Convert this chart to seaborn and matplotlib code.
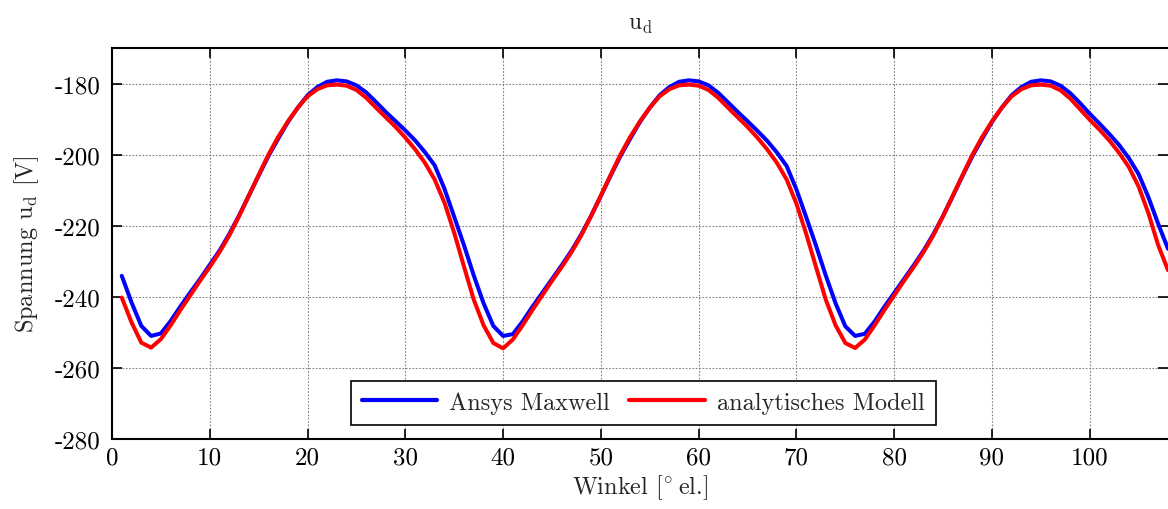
import numpy as np
import pandas as pd
import matplotlib
matplotlib.use("Agg")
import matplotlib.pyplot as plt
import seaborn as sns

# ---- data ----
winkel = list(range(1, 109))

ansys_maxwell = [
    -234.1, -241.6, -248.2, -251.0, -250.3, -246.8, -242.7, -238.8, -235.0, -231.0,
    -227.0, -222.3, -217.1, -211.5, -205.9, -200.4, -195.5, -190.8, -186.8, -183.3,
    -181.0, -179.5, -179.1, -179.4, -180.5, -182.5, -185.2, -188.0, -190.6, -193.2,
    -196.0, -199.3, -203.0, -209.6, -217.5, -225.5,
    -234.0, -241.8, -248.2, -251.0, -250.5, -246.9, -242.8, -238.9, -235.0, -231.1,
    -227.0, -222.4, -217.2, -211.6, -205.9, -200.4, -195.5, -190.8, -186.8, -183.3,
    -181.0, -179.5, -179.1, -179.4, -180.5, -182.6, -185.3, -188.0, -190.6, -193.3,
    -196.1, -199.4, -203.2, -209.8, -217.6, -225.6,
    -234.0, -241.8, -248.3, -251.0, -250.4, -246.9, -242.8, -238.9, -235.0, -231.1,
    -227.0, -222.4, -217.2, -211.6, -205.9, -200.4, -195.5, -190.8, -186.8, -183.3,
    -181.0, -179.5, -179.1, -179.4, -180.6, -182.7, -185.5, -188.5, -191.3, -194.2,
    -197.3, -201.0, -205.5, -212.0, -219.5, -226.5,
]

analytisches_modell = [
    -240.2, -247.2, -252.9, -254.3, -251.9, -248.0, -243.7, -239.6, -235.5, -231.6,
    -227.4, -222.7, -217.3, -211.5, -205.7, -200.0, -195.0, -190.6, -186.8, -183.6,
    -181.6, -180.5, -180.3, -180.6, -181.8, -184.0, -186.8, -189.5, -192.2, -195.2,
    -198.5, -202.3, -207.0, -213.5, -222.0, -231.5,
    -240.8, -248.0, -253.0, -254.5, -252.0, -248.0, -243.7, -239.6, -235.5, -231.6,
    -227.4, -222.7, -217.3, -211.5, -205.7, -200.0, -195.0, -190.6, -186.8, -183.6,
    -181.6, -180.5, -180.3, -180.6, -181.8, -184.0, -186.8, -189.5, -192.2, -195.2,
    -198.5, -202.3, -207.0, -213.8, -222.3, -231.6,
    -240.8, -248.0, -253.0, -254.4, -252.0, -248.0, -243.7, -239.6, -235.5, -231.6,
    -227.4, -222.7, -217.3, -211.5, -205.7, -200.0, -195.0, -190.6, -186.8, -183.6,
    -181.6, -180.5, -180.3, -180.6, -181.9, -184.2, -187.2, -190.2, -193.0, -196.0,
    -199.5, -203.5, -209.0, -216.5, -225.5, -232.5,
]

series_names = ["Ansys Maxwell", "analytisches Modell"]
series_colors = ["#0000ff", "#ff0000"]
x_ticks = [0, 10, 20, 30, 40, 50, 60, 70, 80, 90, 100]
y_ticks = [-280, -260, -240, -220, -200, -180]

df = pd.concat([
    pd.DataFrame({"Winkel": winkel, "Spannung": ansys_maxwell, "Serie": series_names[0]}),
    pd.DataFrame({"Winkel": winkel, "Spannung": analytisches_modell, "Serie": series_names[1]}),
], ignore_index=True)

# ---- style ----
sns.set_theme(style="white")
plt.rcParams["font.family"] = ["cmr10", "DejaVu Serif"]
plt.rcParams["mathtext.fontset"] = "cm"
plt.rcParams["axes.unicode_minus"] = False
plt.rcParams["axes.formatter.use_mathtext"] = False

fig = plt.figure(figsize=(11.68, 5.10), dpi=100)
ax = fig.add_axes([112 / 1168, 1 - 440 / 510, 1 - 112 / 1168, (440 - 49) / 510])

sns.lineplot(data=df, x="Winkel", y="Spannung", hue="Serie",
             palette=dict(zip(series_names, series_colors)),
             linewidth=2.9, ax=ax, legend=True)

ax.set_xlim(0, 108)
ax.set_ylim(-280, -170)
ax.set_xticks(x_ticks)
ax.set_yticks(y_ticks)
ax.set_xticklabels([str(t) for t in x_ticks])
ax.set_yticklabels([str(t) for t in y_ticks])

ax.grid(True, color="#808080", linestyle=(0, (1.5, 1.5)), linewidth=0.8)
ax.set_axisbelow(True)
for side in ["left", "bottom", "top"]:
    ax.spines[side].set_visible(True)
    ax.spines[side].set_color("black")
    ax.spines[side].set_linewidth(1.5)
ax.spines["right"].set_visible(False)

ax.tick_params(axis="both", which="both", direction="in", length=7, width=1.2,
               top=True, right=True, bottom=True, left=True,
               labelsize=18, colors="black", pad=8)
ax.tick_params(axis="x", pad=5)

ax.set_title(r"$\mathrm{u}_\mathrm{d}$", fontsize=17, pad=14)
ax.set_xlabel(r"Winkel [$^{\circ}\!$ el.]", fontsize=17.5, labelpad=3)
ax.set_ylabel(r"Spannung $\mathrm{u}_\mathrm{d}$ [V]", fontsize=17.5, labelpad=10)

handles, labels = ax.get_legend_handles_labels()
leg = ax.legend(handles, labels, loc="lower center", bbox_to_anchor=(0.503, 0.036),
                borderaxespad=0,
                ncol=2, fontsize=17.5, frameon=True, fancybox=False,
                edgecolor="black", framealpha=1, handlelength=3.1,
                columnspacing=0.8, handletextpad=0.5, borderpad=0.45)
leg.get_frame().set_linewidth(1.2)
for line in leg.get_lines():
    line.set_linewidth(3)

fig.savefig("out.png", dpi=100)
